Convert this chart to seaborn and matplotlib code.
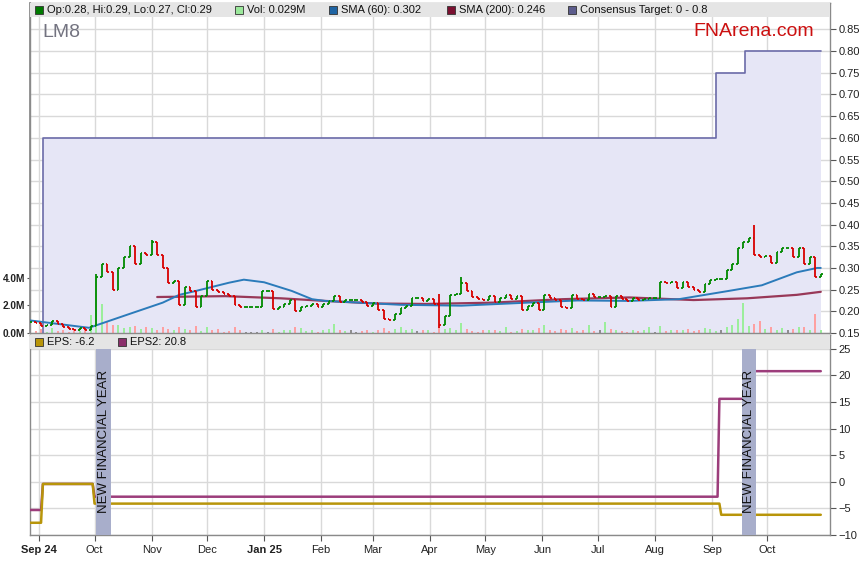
"""LM8 price chart with EPS panel (FNArena style)."""
import matplotlib
matplotlib.use("Agg")
import matplotlib.pyplot as plt
from matplotlib.patches import Rectangle
import numpy as np
import pandas as pd
import seaborn as sns

sns.set_theme(style="white")
plt.rcParams["font.family"] = ["Liberation Sans", "DejaVu Sans"]

W, H = 859, 566

# ---- price bars, one every 3 days from 2024-08-27 to 2025-10-30 ----
closes = [
    0.175, 0.172, 0.165, 0.168, 0.178, 0.170, 0.163, 0.160, 0.158, 0.162, 0.158, 0.165,  # Sep 24
    0.280, 0.310, 0.290, 0.250, 0.300, 0.325, 0.350, 0.310, 0.335, 0.330, 0.360,  # Oct
    0.330, 0.300, 0.265, 0.270, 0.215, 0.255, 0.247, 0.210, 0.235, 0.270,  # Nov
    0.250, 0.245, 0.240, 0.235, 0.215, 0.211, 0.211, 0.211, 0.211, 0.248,  # Dec
    0.248, 0.205, 0.210, 0.217, 0.226, 0.200, 0.210, 0.212, 0.216, 0.210,  # Jan 25
    0.216, 0.224, 0.235, 0.222, 0.225, 0.225, 0.225, 0.222, 0.212, 0.220,  # Feb
    0.202, 0.182, 0.180, 0.193, 0.208, 0.212, 0.230, 0.230, 0.224, 0.228,  # Mar
    0.216, 0.168, 0.190, 0.238, 0.240, 0.265, 0.247, 0.232, 0.228, 0.225,  # Apr
    0.235, 0.222, 0.230, 0.238, 0.228, 0.235, 0.204, 0.212, 0.220, 0.204,  # May
    0.238, 0.230, 0.225, 0.211, 0.208, 0.238, 0.228, 0.225, 0.240, 0.232,  # Jun
    0.232, 0.236, 0.211, 0.236, 0.228, 0.224, 0.230, 0.226, 0.228, 0.230, 0.230,  # Jul
    0.268, 0.265, 0.268, 0.253, 0.268, 0.257, 0.250, 0.244, 0.262, 0.273,  # Aug
    0.275, 0.275, 0.296, 0.309, 0.345, 0.360, 0.370, 0.330, 0.325, 0.328,  # Sep
    0.312, 0.336, 0.345, 0.345, 0.325, 0.345, 0.309, 0.325, 0.280, 0.285,  # Oct
]
volume_m = [
    0.25, 0.15, 0.30, 0.10, 0.35, 0.12, 0.20, 0.10, 0.25, 0.15, 0.30, 1.30,
    4.00, 2.10, 0.80, 0.60, 0.55, 0.35, 0.45, 0.50, 0.30, 0.40, 0.35,
    0.20, 0.45, 0.30, 0.25, 0.40, 0.30, 0.20, 0.50, 0.15, 0.40,
    0.20, 0.30, 0.10, 0.15, 0.45, 0.20, 0.05, 0.05, 0.05, 0.25,
    0.05, 0.30, 0.10, 0.20, 0.25, 0.40, 0.35, 0.15, 0.25, 0.10,
    0.20, 0.30, 0.65, 0.25, 0.15, 0.20, 0.10, 0.15, 0.20, 0.10,
    0.25, 0.35, 0.15, 0.30, 0.45, 0.20, 0.30, 0.15, 0.20, 0.25,
    0.10, 0.45, 0.30, 0.35, 0.20, 0.70, 0.30, 0.15, 0.10, 0.20,
    0.25, 0.20, 0.15, 0.40, 0.10, 0.15, 0.30, 0.20, 0.25, 0.35,
    0.60, 0.20, 0.15, 0.30, 0.25, 0.35, 0.15, 0.20, 0.55, 0.15,
    0.20, 0.80, 0.30, 0.25, 0.15, 0.10, 0.20, 0.15, 0.25, 0.40, 0.10,
    0.50, 0.15, 0.20, 0.25, 0.20, 0.30, 0.15, 0.25, 0.35, 0.30,
    0.15, 0.20, 0.40, 0.55, 1.00, 2.20, 0.50, 0.65, 0.85, 0.30,
    0.45, 0.25, 0.35, 0.20, 0.30, 0.45, 0.40, 0.25, 1.40, 0.20,
]
spike_idx = [12, 22, 74, 78, 131]
spike_high = [0.285, 0.365, 0.240, 0.280, 0.400]
spike_low = [0.200, 0.330, 0.162, 0.240, 0.330]

sma60_dates = ["2024-08-27", "2024-09-28", "2024-10-09", "2024-10-20", "2024-11-07",
               "2024-11-16", "2024-11-25", "2024-12-13", "2024-12-21", "2025-01-01",
               "2025-01-16", "2025-01-27", "2025-02-03", "2025-02-22", "2025-03-16",
               "2025-04-18", "2025-05-24", "2025-06-20", "2025-07-18", "2025-08-14",
               "2025-09-10", "2025-09-28", "2025-10-17", "2025-10-28", "2025-10-30"]
sma60 = [0.179, 0.162, 0.178, 0.194, 0.220, 0.238, 0.247, 0.266, 0.273, 0.267,
         0.247, 0.228, 0.224, 0.220, 0.215, 0.213, 0.220, 0.225, 0.224, 0.228,
         0.247, 0.260, 0.290, 0.300, 0.300]
sma200_dates = ["2024-11-04", "2024-12-11", "2025-01-10", "2025-02-03", "2025-03-03",
                "2025-03-30", "2025-05-05", "2025-06-12", "2025-07-18", "2025-08-22",
                "2025-09-20", "2025-10-17", "2025-10-30"]
sma200 = [0.233, 0.235, 0.230, 0.224, 0.218, 0.217, 0.220, 0.228, 0.232, 0.226,
          0.230, 0.238, 0.245]

target_dates = ["2024-08-27", "2024-09-03", "2025-09-03", "2025-09-19", "2025-10-30"]
target = [0.0, 0.60, 0.75, 0.80, 0.80]

eps_dates = ["2024-08-27", "2024-09-02", "2024-09-03", "2024-09-30", "2024-10-01",
             "2025-09-05", "2025-09-06", "2025-10-30"]
eps = [-7.7, -7.7, -0.4, -0.4, -4.1, -4.1, -6.2, -6.2]
eps2_dates = ["2024-08-27", "2024-09-02", "2024-09-03", "2024-09-30", "2024-10-01",
              "2025-09-04", "2025-09-05", "2025-09-20", "2025-09-21", "2025-10-30"]
eps2 = [-5.3, -5.3, -0.4, -0.4, -2.8, -2.8, 15.6, 15.6, 20.8, 20.8]

nfy_start = ["2024-10-02", "2025-09-17"]
nfy_end = ["2024-10-10", "2025-09-25"]

month_ticks = pd.date_range("2024-09-01", "2025-10-01", freq="MS")
month_labels = ["Sep 24", "Oct", "Nov", "Dec", "Jan 25", "Feb", "Mar", "Apr",
                "May", "Jun", "Jul", "Aug", "Sep", "Oct"]

GREEN, RED = "#008a00", "#d80000"
GRID = "#d9d9d9"
SPINE = "#8a8a8a"


def vol_to_price(v):
    return 0.15 + np.asarray(v) * 0.0318


def price_to_vol(p):
    return (np.asarray(p) - 0.15) / 0.0318


bar_dates = pd.date_range("2024-08-27", "2025-10-30", periods=len(closes))
closes_a = np.array(closes)
opens_a = np.r_[closes_a[0], closes_a[:-1]]
highs_a = np.maximum(opens_a, closes_a)
lows_a = np.minimum(opens_a, closes_a)
for i, hi, lo in zip(spike_idx, spike_high, spike_low):
    highs_a[i] = max(highs_a[i], hi)
    lows_a[i] = min(lows_a[i], lo)
bar_cols = [RED if c < o else GREEN for o, c in zip(opens_a, closes_a)]
vol_cols = ["#ff9f9f" if c < o else ("#9aef9a" if c > o else "#8c8c8c")
            for o, c in zip(opens_a, closes_a)]

fig = plt.figure(figsize=(W / 100, H / 100), dpi=100)
ax = fig.add_axes([30 / W, 1 - 333 / H, 800 / W, 330 / H])
ax2 = fig.add_axes([30 / W, 1 - 535 / H, 800 / W, 200 / H], sharex=ax)

# ---- price panel ----
tdates = pd.to_datetime(target_dates)
ax.fill_between(tdates, 0, target, step="post", color="#e6e6f6", lw=0, zorder=1)
ax.step(tdates, target, where="post", color="#6b6ba8", lw=1.2, zorder=3)

ax.vlines(bar_dates, 0.15, vol_to_price(volume_m), colors=vol_cols, lw=1.4, zorder=2)

sns.lineplot(x=pd.to_datetime(sma200_dates), y=sma200, ax=ax, color="#8b1a3c",
             lw=1.6, alpha=0.85, zorder=3, legend=False)
sns.lineplot(x=pd.to_datetime(sma60_dates), y=sma60, ax=ax, color="#2b7bba",
             lw=1.4, zorder=3, legend=False)

tick = pd.Timedelta(days=1)
ax.vlines(bar_dates, lows_a, highs_a, colors=bar_cols, lw=1.3, zorder=4)
ax.hlines(opens_a, bar_dates - tick, bar_dates, colors=bar_cols, lw=1.3, zorder=4)
ax.hlines(closes_a, bar_dates, bar_dates + tick, colors=bar_cols, lw=1.3, zorder=4)

ax.set_xlim(pd.Timestamp("2024-08-27"), pd.Timestamp("2025-11-04"))
ax.set_ylim(0.15, 0.911)
ax.set_yticks(np.arange(0.15, 0.851, 0.05))
ax.set_yticklabels([f"{v:.2f}" for v in np.arange(0.15, 0.851, 0.05)])
ax.yaxis.tick_right()
ax.tick_params(axis="y", right=True, length=4, width=0.8, color="#555",
               labelsize=8, labelcolor="#222", pad=2)
ax.tick_params(axis="x", bottom=False, labelbottom=False)
ax.grid(True, color=GRID, lw=1)
ax.set_axisbelow(True)
ax.set_xlabel("")
ax.set_ylabel("")

sec = ax.secondary_yaxis("left", functions=(price_to_vol, vol_to_price))
sec.set_yticks([0, 2, 4])
sec.set_yticklabels(["0.0M", "2.0M", "4.0M"], fontweight="bold", fontsize=7.3, color="#222")
sec.tick_params(length=2.5, width=0.8, color="#555", pad=1)
sec.spines["left"].set_color(SPINE)

ax.add_patch(Rectangle((0, 1 - 14 / 330), 1, 14 / 330, transform=ax.transAxes,
                       facecolor="#e5e5e5", edgecolor="none", zorder=10, clip_on=False))
ax.text(12 / 800, 1 - 21 / 330, "LM8", transform=ax.transAxes, fontsize=14,
        color="#737380", va="top", ha="left", zorder=11)
ax.text(663 / 800, 1 - 20 / 330, "FNArena.com", transform=ax.transAxes, fontsize=14,
        color="#cc1010", va="top", ha="left", zorder=11)

# ---- EPS panel ----
sns.lineplot(x=pd.to_datetime(eps2_dates), y=eps2, ax=ax2, color="#9c3d7b", lw=1.8,
             estimator=None, sort=False, zorder=3, legend=False)
sns.lineplot(x=pd.to_datetime(eps_dates), y=eps, ax=ax2, color="#b8950a", lw=1.8,
             estimator=None, sort=False, zorder=3, legend=False)
for s, e in zip(nfy_start, nfy_end):
    s, e = pd.Timestamp(s), pd.Timestamp(e)
    ax2.axvspan(s, e, color="#a8aecb", lw=0, zorder=5)
    ax2.text(s + (e - s) / 2, -5.8, "NEW FINANCIAL YEAR", rotation=90, ha="center",
             va="bottom", fontsize=9.5, color="#111", zorder=6)

ax2.set_ylim(-10, 27.6)
ax2.set_yticks(np.arange(-10, 26, 5))
ax2.yaxis.tick_right()
ax2.tick_params(axis="y", right=True, length=4, width=0.8, color="#555",
                labelsize=8, labelcolor="#222", pad=2)
ax2.set_xticks(month_ticks)
ax2.set_xticklabels(month_labels)
for i, lab in enumerate(ax2.get_xticklabels()):
    if month_labels[i] in ("Sep 24", "Jan 25"):
        lab.set_fontweight("bold")
ax2.tick_params(axis="x", bottom=True, length=4, width=0.8, color="#555",
                labelsize=8, labelcolor="#222", pad=3)
ax2.grid(True, color=GRID, lw=1)
ax2.set_axisbelow(True)
ax2.set_xlabel("")
ax2.set_ylabel("")
ax2.add_patch(Rectangle((0, 1 - 14 / 200), 1, 14 / 200, transform=ax2.transAxes,
                        facecolor="#e5e5e5", edgecolor="none", zorder=10, clip_on=False))

for a in (ax, ax2):
    for sp in a.spines.values():
        sp.set_visible(True)
        sp.set_color(SPINE)
        sp.set_linewidth(1)


# ---- legend strips ----
def legend_item(px, py, color, label):
    fig.add_artist(Rectangle((px / W, 1 - (py + 4) / H), 8 / W, 8 / H,
                             transform=fig.transFigure, facecolor=color,
                             edgecolor="#333", lw=0.6))
    fig.text((px + 12) / W, 1 - py / H, label, fontsize=8, color="#111",
             va="center", ha="left")


legend_item(35, 10, "#007a00", "Op:0.28, Hi:0.29, Lo:0.27, Cl:0.29")
legend_item(235, 10, "#9be89b", "Vol: 0.029M")
legend_item(329, 10, "#1f64a3", "SMA (60): 0.302")
legend_item(447, 10, "#7a1030", "SMA (200): 0.246")
legend_item(568, 10, "#5c5c8c", "Consensus Target: 0 - 0.8")
legend_item(35, 342, "#b8950a", "EPS: -6.2")
legend_item(118, 342, "#8b2f6b", "EPS2: 20.8")

fig.savefig("out.png", dpi=100)
